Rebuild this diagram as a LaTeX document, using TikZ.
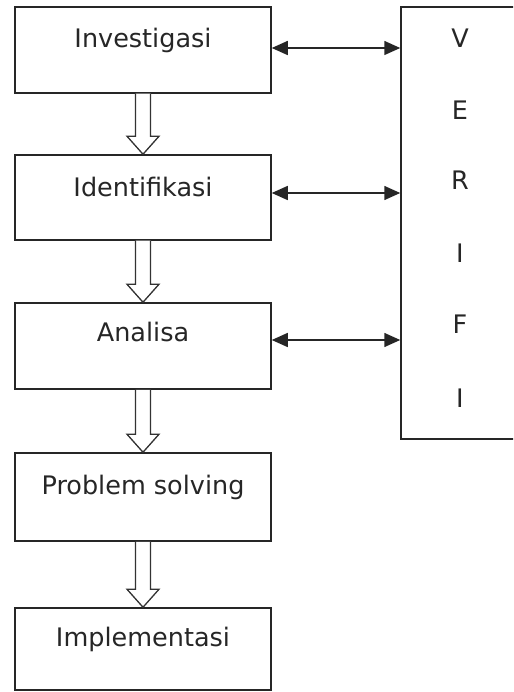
\documentclass[tikz,border=0pt]{standalone}
\usepackage{fontspec}
\setmainfont{DejaVu Sans}
\usetikzlibrary{arrows.meta,calc}
\tikzset{
  box/.style={draw=black!85,line width=1.5pt,rectangle,minimum width=256pt,inner sep=0pt},
  lbl/.style={anchor=base,inner sep=0pt,text=black!85,font=\fontsize{25.5}{30}\selectfont},
  dbl/.style={draw=black!85,line width=1.5pt,{Triangle[length=16pt,width=14pt]}-{Triangle[length=16pt,width=14pt]}},
  hollow/.style={draw=black!80,line width=1.3pt,fill=white,line join=miter}
}
\newcommand\hollowarr[2]{%
  \draw[hollow] ($(#1.south)+(-7.5,0)$) -- ($(#2.north)+(-7.5,18)$) -- ($(#2.north)+(-16,18)$) -- (#2.north) -- ($(#2.north)+(16,18)$) -- ($(#2.north)+(7.5,18)$) -- ($(#1.south)+(7.5,0)$);}
\begin{document}
\begin{tikzpicture}[x=1pt,y=1pt]
\useasboundingbox (0,0) rectangle (513,-692);
\clip (0,0) rectangle (513,-692);
\node[box,minimum height=86pt] (b1) at (143,-50) {};
\node[box,minimum height=85pt] (b2) at (143,-197.5) {};
\node[box,minimum height=86pt] (b3) at (143,-346) {};
\node[box,minimum height=88pt] (b4) at (143,-497) {};
\node[box,minimum height=82pt] (b5) at (143,-649) {};
\node[box,minimum width=129pt,minimum height=432pt] (v) at (465.5,-223) {};
\node[lbl] (t1) at ($(b1.north)+(0,-41)$) {Investigasi};
\node[lbl] (t2) at ($(b2.north)+(0,-42)$) {Identifikasi};
\node[lbl] (t3) at ($(b3.north)+(0,-39)$) {Analisa};
\node[lbl] (t4) at ($(b4.north)+(0,-42)$) {Problem solving};
\node[lbl] (t5) at ($(b5.north)+(0,-39)$) {Implementasi};
\node[lbl] (l1) at (460,-48) {V};
\node[lbl] (l2) at (460,-120) {E};
\node[lbl] (l3) at (460,-190) {R};
\node[lbl] (l4) at (460,-262) {I};
\node[lbl] (l5) at (460,-333) {F};
\node[lbl] (l6) at (460,-407) {I};
\coordinate (a1) at ($(b1.east)+(0,2)$);
\coordinate (a2) at ($(b2.east)+(0,4.5)$);
\coordinate (a3) at ($(b3.east)+(0,6)$);
\draw[dbl] (a1) -- (a1 -| v.west);
\draw[dbl] (a2) -- (a2 -| v.west);
\draw[dbl] (a3) -- (a3 -| v.west);
\hollowarr{b1}{b2}
\hollowarr{b2}{b3}
\hollowarr{b3}{b4}
\hollowarr{b4}{b5}
\end{tikzpicture}
\end{document}
